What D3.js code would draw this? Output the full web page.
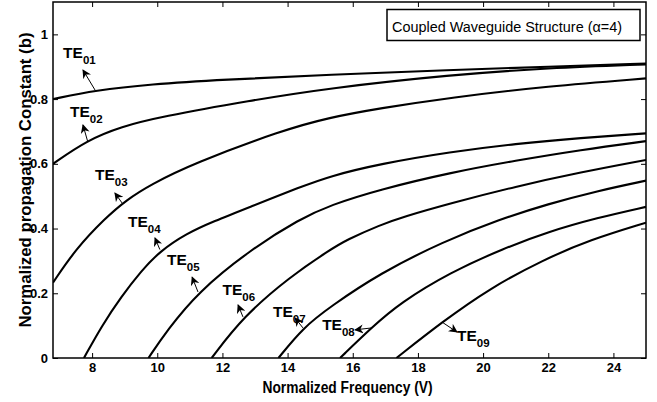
<!DOCTYPE html>
<html>
<head>
<meta charset="utf-8">
<script src="https://cdn.jsdelivr.net/npm/d3@7"></script>
<style>
  body { margin: 0; background: #fff; }
  svg { display: block; font-family: "Liberation Sans", Arial, sans-serif; }
  .axis text { font-size: 13px; font-weight: bold; fill: #000; }
  .axis line { stroke: #000; stroke-width: 1; }
</style>
</head>
<body>
<svg id="chart"></svg>
<script>
// mode curves, [V, b]
const te01 = [[6.8,0.800],[8.1,0.827],[9.78,0.846],[12.0,0.860],[15.28,0.875],[19,0.890],[22,0.900],[25,0.910]];
const te02 = [[6.8,0.600],[7.85,0.673],[8.9,0.715],[10.09,0.745],[12.83,0.795],[15.28,0.834],[19,0.875],[22,0.896],[25,0.907]];
const te03 = [[6.8,0.233],[7.5,0.337],[8.4,0.432],[9.05,0.488],[9.78,0.535],[11.1,0.601],[13.85,0.704],[15.28,0.743],[16.8,0.771],[19,0.805],[22,0.840],[25,0.864]];
const te04 = [[7.75,0],[8.3,0.100],[8.9,0.190],[9.5,0.268],[10.08,0.330],[10.9,0.385],[11.72,0.422],[12.85,0.467],[14.38,0.528],[15.3,0.562],[16.84,0.600],[19,0.637],[21,0.662],[23,0.680],[25,0.694]];
const te05 = [[9.73,0],[10.3,0.085],[11.25,0.204],[12.85,0.334],[14.38,0.430],[15.3,0.472],[16.84,0.521],[19,0.573],[21,0.610],[23,0.643],[25,0.670]];
const te06 = [[11.67,0],[12.63,0.127],[14.07,0.251],[15.3,0.334],[15.81,0.365],[16.84,0.411],[17.54,0.436],[19,0.478],[21,0.530],[23,0.574],[25,0.612]];
const te07 = [[13.72,0],[14.47,0.093],[15.3,0.158],[16.84,0.262],[18.78,0.360],[20.5,0.428],[22,0.476],[23.5,0.516],[25,0.548]];
const te08 = [[15.61,0],[16.59,0.095],[17.45,0.170],[19,0.265],[20.62,0.338],[22,0.390],[23.5,0.433],[25,0.467]];
const te09 = [[17.34,0],[18.74,0.111],[20.2,0.215],[21.84,0.303],[23.28,0.365],[25,0.418]];

const curves = [te01, te02, te03, te04, te05, te06, te07, te08, te09];
const modeNames = ["01","02","03","04","05","06","07","08","09"];

// label text position and arrow (from curve point to head), in data units
const labelPos = [[7.11,0.927],[7.32,0.745],[8.09,0.550],[9.10,0.405],[10.30,0.287],[12.00,0.195],[13.55,0.127],[15.06,0.087],[19.20,0.053]];
const arrowFrom = [[8.09,0.828],[7.87,0.667],[8.92,0.479],[10.08,0.335],[11.25,0.204],[12.63,0.127],[14.47,0.093],[16.59,0.093],[18.74,0.111]];
const arrowTo = [[7.72,0.890],[7.72,0.720],[8.70,0.510],[9.93,0.371],[11.07,0.250],[12.48,0.164],[14.23,0.124],[16.07,0.087],[19.20,0.080]];

const xTicks = [8,10,12,14,16,18,20,22,24];
const yTicks = [0,0.2,0.4,0.6,0.8,1];
const xDomain = [6.8, 25];
const yDomain = [0, 1.1];

const titleText = "Coupled Waveguide Structure (\u03b1=4)";
const xLabel = "Normalized Frequency (V)";
const yLabel = "Normalized propagation Constant (b)";

const W = 657, H = 402;
const margin = {top: 2, right: 11, bottom: 44, left: 53};
const width = W - margin.left - margin.right;
const height = H - margin.top - margin.bottom;

const svg = d3.select('#chart').attr('width', W).attr('height', H);

const defs = svg.append('defs');
defs.append('clipPath').attr('id', 'plot-clip')
  .append('rect').attr('width', width).attr('height', height);
defs.append('marker')
  .attr('id', 'head')
  .attr('viewBox', '0 0 10 10')
  .attr('refX', 9).attr('refY', 5)
  .attr('markerWidth', 9).attr('markerHeight', 9)
  .attr('markerUnits', 'userSpaceOnUse')
  .attr('orient', 'auto')
  .append('path').attr('d', 'M0,0 L10,5 L0,10 L3,5 Z').attr('fill', '#000');

const chart = svg.append('g').attr('transform', `translate(${margin.left},${margin.top})`);

const x = d3.scaleLinear().domain(xDomain).range([0, width]);
const y = d3.scaleLinear().domain(yDomain).range([height, 0]);

// axes, ticks pointing inward on all four sides
chart.append('g').attr('class', 'axis')
  .attr('transform', `translate(0,${height})`)
  .call(d3.axisBottom(x).tickValues(xTicks).tickSizeInner(-5).tickSizeOuter(0).tickPadding(5).tickFormat(d3.format('d')))
  .call(g => g.select('.domain').remove());
chart.append('g').attr('class', 'axis')
  .call(d3.axisLeft(y).tickValues(yTicks).tickSizeInner(-5).tickSizeOuter(0).tickPadding(5).tickFormat(d => d === 0 || d === 1 ? d3.format('d')(d) : d3.format('.1f')(d)))
  .call(g => g.select('.domain').remove());
chart.append('g').attr('class', 'axis')
  .call(d3.axisTop(x).tickValues(xTicks).tickSizeInner(-5).tickSizeOuter(0).tickFormat(''))
  .call(g => g.select('.domain').remove());
chart.append('g').attr('class', 'axis')
  .attr('transform', `translate(${width},0)`)
  .call(d3.axisRight(y).tickValues(yTicks).tickSizeInner(-5).tickSizeOuter(0).tickFormat(''))
  .call(g => g.select('.domain').remove());

// curves
const line = d3.line()
  .x(d => x(d[0]))
  .y(d => y(d[1]))
  .curve(d3.curveBasis);

chart.append('g').attr('clip-path', 'url(#plot-clip)')
  .selectAll('path')
  .data(curves)
  .join('path')
  .attr('d', line)
  .attr('fill', 'none')
  .attr('stroke', '#000')
  .attr('stroke-width', 2.1);

// frame
chart.append('rect')
  .attr('width', width).attr('height', height)
  .attr('fill', 'none').attr('stroke', '#000').attr('stroke-width', 1.5);

// mode labels with arrows
chart.append('g').selectAll('line')
  .data(arrowFrom)
  .join('line')
  .attr('x1', d => x(d[0])).attr('y1', d => y(d[1]))
  .attr('x2', (d, i) => x(arrowTo[i][0])).attr('y2', (d, i) => y(arrowTo[i][1]))
  .attr('stroke', '#000').attr('stroke-width', 1)
  .attr('marker-end', 'url(#head)');

const labels = chart.append('g').selectAll('text')
  .data(modeNames)
  .join('text')
  .attr('x', (d, i) => x(labelPos[i][0]))
  .attr('y', (d, i) => y(labelPos[i][1]))
  .attr('font-size', 15.5).attr('font-weight', 'bold');
labels.append('tspan').text('TE');
labels.append('tspan').attr('dy', 6).attr('font-size', 11.5).text(d => d);

// title box
const box = chart.append('g');
box.append('rect')
  .attr('x', 334).attr('y', 7.5).attr('width', 253).attr('height', 31)
  .attr('fill', '#fff').attr('stroke', '#000').attr('stroke-width', 1.5);
box.append('text')
  .attr('x', 339).attr('y', 29.5)
  .attr('font-size', 15.5)
  .attr('textLength', 230).attr('lengthAdjust', 'spacingAndGlyphs')
  .text(titleText);

// axis labels
svg.append('text')
  .attr('x', margin.left + width / 2 - 2).attr('y', 393)
  .attr('text-anchor', 'middle')
  .attr('font-size', 16).attr('font-weight', 'bold')
  .attr('textLength', 170).attr('lengthAdjust', 'spacingAndGlyphs')
  .text(xLabel);
svg.append('text')
  .attr('transform', `translate(31,${180}) rotate(-90)`)
  .attr('text-anchor', 'middle')
  .attr('font-size', 16.5).attr('font-weight', 'bold')
  .attr('textLength', 295).attr('lengthAdjust', 'spacingAndGlyphs')
  .text(yLabel);
</script>
</body>
</html>
